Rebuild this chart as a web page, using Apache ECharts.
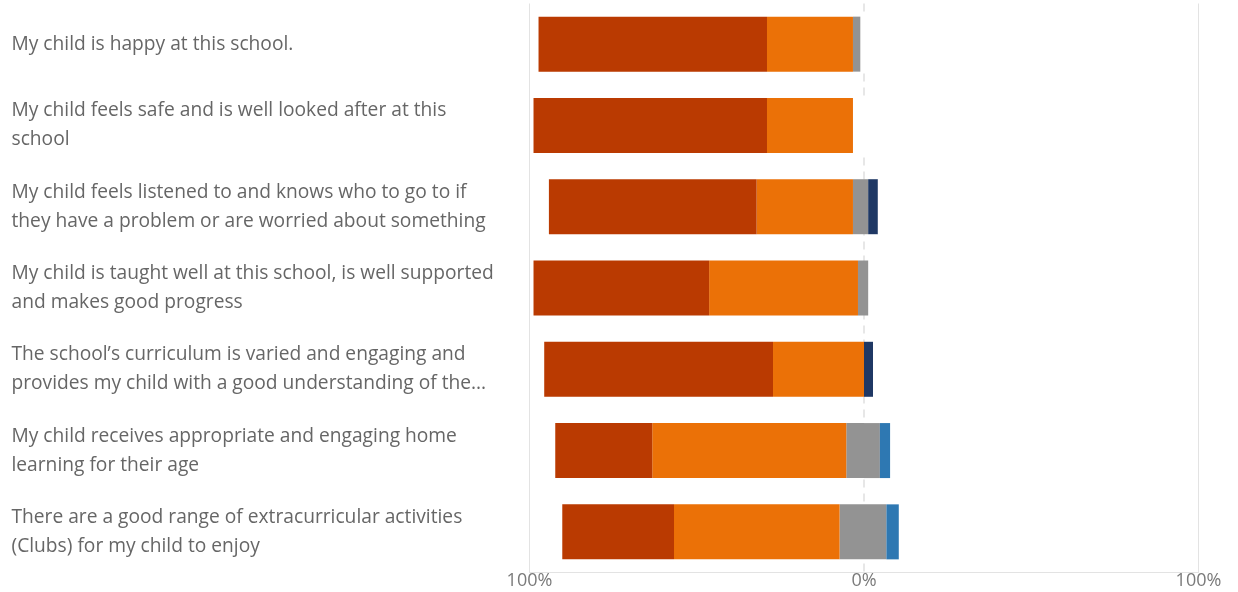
<!DOCTYPE html>
<html>
<head>
<meta charset="utf-8">
<script src="https://cdn.jsdelivr.net/npm/echarts@6/dist/echarts.min.js"></script>
<style>
  html, body { margin: 0; padding: 0; background: #fff; }
  #chart { width: 1238px; height: 592px; }
</style>
</head>
<body>
<div id="chart"></div>
<script>
// Statements (top to bottom)
const categories = [
  "My child is happy at this school.",
  "My child feels safe and is well looked after at this\nschool",
  "My child feels listened to and knows who to go to if\nthey have a problem or are worried about something",
  "My child is taught well at this school, is well supported\nand makes good progress",
  "The school\u2019s curriculum is varied and engaging and\nprovides my child with a good understanding of the...",
  "My child receives appropriate and engaging home\nlearning for their age",
  "There are a good range of extracurricular activities\n(Clubs) for my child to enjoy"
];

// Percent of responses
const stronglyAgree    = [68.3, 69.8, 62.1, 52.5, 68.4, 29.0, 33.4];
const agree            = [25.7, 25.7, 28.8, 44.5, 27.2, 58.0, 49.5];
const neutralLeft      = [2.2, 0, 3.3, 1.8, 0, 5.3, 7.3];
const neutralRight     = [0, 0, 1.25, 1.25, 0, 4.75, 6.7];
const disagree         = [0, 0, 2.9, 0, 2.7, 0, 0];
const stronglyDisagree = [0, 0, 0, 0, 0, 3.05, 3.7];
const blankLeft        = [1.1, 3.3, 0, 0, 0, 0, 0];
const blankRight       = [2.75, 1.25, 2.15, 0, 2.2, 0, 0];

const xTicks = [-100, 0, 100];

const neg = a => a.map(v => -v);

function barSeries(name, data, color) {
  return {
    name: name,
    type: 'bar',
    stack: 'total',
    barWidth: 55,
    data: data,
    itemStyle: { color: color },
    emphasis: { disabled: true },
    silent: true
  };
}

const chart = echarts.init(document.getElementById('chart'), null, { renderer: 'canvas' });

chart.setOption({
  animation: false,
  grid: { left: 529.5, right: 39.5, top: 3.5, bottom: 19.5, containLabel: false },
  xAxis: [
    {
      type: 'value',
      min: xTicks[0], max: xTicks[2], interval: 100,
      axisLine: { show: true, lineStyle: { color: '#e3e3e3', width: 1 } },
      axisTick: { show: false },
      axisLabel: {
        formatter: v => Math.abs(v) + '%',
        color: '#7a7a7a',
        fontSize: 18,
        fontFamily: 'Open Sans',
        margin: -1
      },
      splitLine: { show: true, lineStyle: { color: ['#e3e3e3', 'rgba(0,0,0,0)', '#e3e3e3'], width: 1 } }
    },
    {
      type: 'value',
      min: xTicks[0], max: xTicks[2], interval: 100,
      position: 'bottom',
      axisLine: { show: false },
      axisTick: { show: false },
      axisLabel: { show: false },
      splitLine: { show: true, lineStyle: { color: ['rgba(0,0,0,0)', '#e0e0e0', 'rgba(0,0,0,0)'], width: 1.5, type: [8, 6] } }
    }
  ],
  yAxis: {
    type: 'category',
    data: categories,
    inverse: true,
    axisLine: { show: false },
    axisTick: { show: false },
    axisLabel: {
      align: 'left',
      margin: 518,
      color: '#666666',
      fontSize: 19.2,
      lineHeight: 29,
      fontFamily: 'Open Sans'
    }
  },
  series: [
    barSeries('Blank', neg(blankLeft), '#ffffff'),
    barSeries('Neutral', neg(neutralLeft), '#939393'),
    barSeries('Agree', neg(agree), '#eb7107'),
    barSeries('Strongly agree', neg(stronglyAgree), '#ba3a01'),
    barSeries('Neutral ', neutralRight, '#939393'),
    barSeries('Disagree', disagree, '#1f3864'),
    barSeries('Strongly disagree', stronglyDisagree, '#2e78b2'),
    barSeries('Blank ', blankRight, '#ffffff')
  ]
});
</script>
</body>
</html>
